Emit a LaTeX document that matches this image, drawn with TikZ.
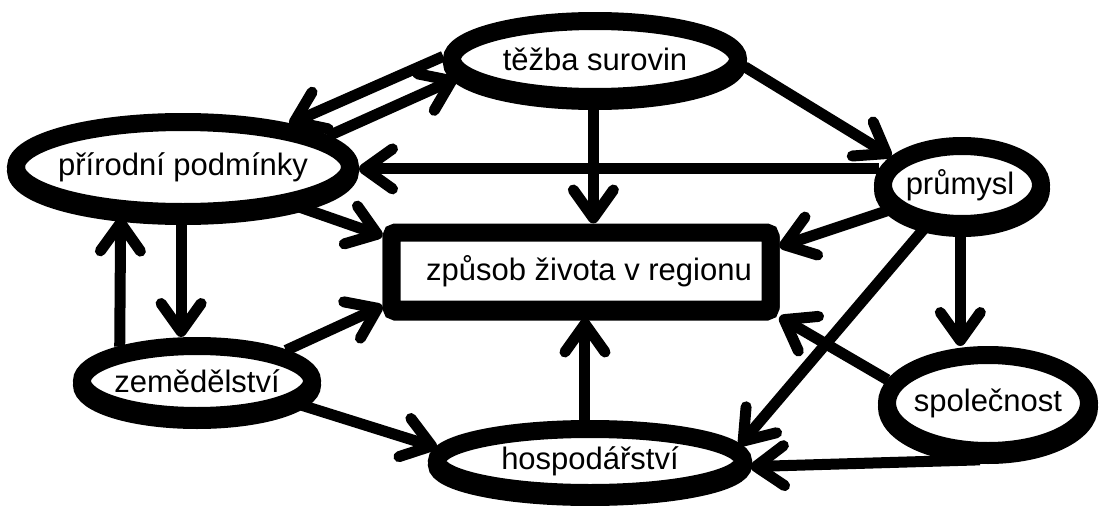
\documentclass[tikz,border=0pt]{standalone}
\usepackage{fontspec}
\setmainfont{Liberation Sans}
\usetikzlibrary{shapes.geometric,arrows.meta}
\begin{document}
\begin{tikzpicture}[x=1pt,y=-1pt,
  oval/.style={ellipse, draw, fill=white, line width=18pt, inner sep=0pt,
               preaction={draw, line width=18pt, transform canvas={yshift=-4pt}}},
  box/.style={rectangle, draw, fill=white, line width=18pt, inner sep=0pt, rounded corners=4pt,
              preaction={draw, line width=18pt, transform canvas={yshift=-2pt}}},
  txt/.style={font=\fontsize{31}{37}\selectfont},
  arr/.style={line width=11pt, -{Straight Barb[length=28pt,width=40pt,round]}}]

\useasboundingbox[fill=white] (0,0) rectangle (1112,506);

% nodes
\node[oval, minimum width=286pt, minimum height=76pt,
      label={[txt]center:těžba surovin}] (tez) at (595,59) {};
\node[oval, minimum width=334pt, minimum height=90pt,
      label={[txt]center:přírodní podmínky}] (pri) at (183,167) {};
\node[oval, minimum width=158pt, minimum height=78pt,
      label={[txt,xshift=-2pt]center:průmysl}] (pru) at (962,185) {};
\node[box, minimum width=379pt, minimum height=77pt,
      label={[txt,xshift=8pt]center:způsob života v regionu}] (rect) at (581,271) {};
\node[oval, minimum width=230pt, minimum height=70pt,
      label={[txt]center:zemědělství}] (zem) at (197,381) {};
\node[oval, minimum width=306pt, minimum height=64pt,
      label={[txt]center:hospodářství}] (hos) at (590,461) {};
\node[oval, minimum width=202pt, minimum height=96pt,
      label={[txt]center:společnost}] (spo) at (988,403) {};

% connectors
\draw[arr] (tez.179) -- (pri.22);
\draw[arr] (pri.12) -- (tez.188);
\draw[arr] (tez.268) -- (tez.268 |- rect.north);
\draw[arr] (tez.357) -- (pru.158);
\draw[arr] (pru.169) -- (pru.169 -| pri.east);
\draw[arr] (pri.341) -- (rect.170);
\draw[arr] (pru.199) -- (rect.7);
\draw[arr] (pri.268) -- (pri.268 |- zem.north);
\draw[arr] (zem.156) -- (pri.219);
\draw[arr] (zem.19) -- (rect.190);
\draw[arr] (zem.347) -- (hos.175);
\draw[arr] (hos.97) -- (hos.97 |- rect.south);
\draw[arr] (pru.229) -- (hos.6);
\draw[arr] (pru.268) -- (pru.268 |- spo.north);
\draw[arr] (spo.167) -- (rect.347);
\draw[arr] (spo.262) -- (hos.358);
\end{tikzpicture}
\end{document}
